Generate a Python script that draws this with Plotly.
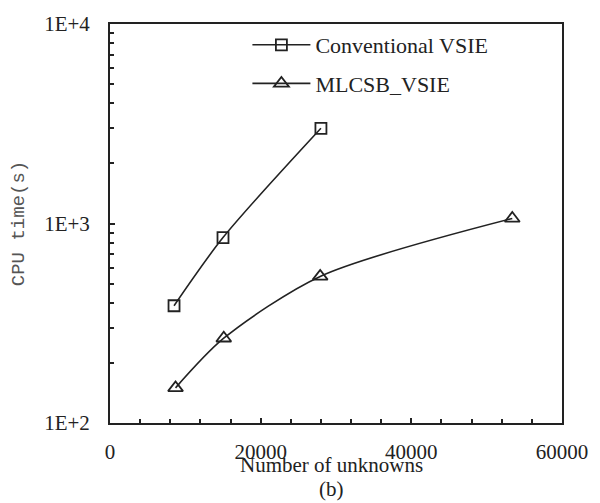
import plotly.graph_objects as go

# Data
conv_x = [8500, 15000, 28000]
conv_y = [387, 850, 3000]
ml_x = [8700, 15100, 27900, 53400]
ml_y = [150, 266, 543, 1060]

series_names = ["Conventional VSIE", "MLCSB_VSIE"]
y_tickvals = [100, 1000, 10000]
y_ticktext = ["1E+2", "1E+3", "1E+4"]
x_tickvals = [0, 20000, 40000, 60000]
x_ticktext = ["0", "20000", "40000", "60000"]

serif = "Liberation Serif"
ink = "#222222"

fig = go.Figure()
fig.add_trace(go.Scatter(
    x=conv_x, y=conv_y, name=series_names[0], legendgroup="a",
    mode="lines+markers",
    line=dict(color=ink, width=1.6, shape="spline", smoothing=0.8),
    marker=dict(symbol="square-open", size=11, color=ink, line=dict(width=1.8)),
))
fig.add_trace(go.Scatter(
    x=ml_x, y=ml_y, name=series_names[1], legendgroup="b",
    mode="lines+markers",
    line=dict(color=ink, width=1.6, shape="spline", smoothing=0.8),
    marker=dict(symbol="triangle-up-open", size=13, color=ink, line=dict(width=1.8)),
))

axis_common = dict(
    showline=True, linecolor=ink, linewidth=2, mirror=True,
    showgrid=False, zeroline=False, ticks="inside",
    tickcolor=ink, tickfont=dict(family=serif, size=21, color=ink),
)

fig.update_xaxes(
    range=[0, 60000], tickvals=x_tickvals, ticktext=x_ticktext,
    ticklen=5, tickwidth=1.5, ticklabelstandoff=9,
    minor=dict(ticks="inside", dtick=4000, tick0=0, ticklen=4, tickwidth=1.5, tickcolor=ink),
    **axis_common,
)
fig.update_yaxes(
    type="log", range=[2, 4], tickvals=y_tickvals, ticktext=y_ticktext,
    ticklen=5, tickwidth=1.5, ticklabelstandoff=14,
    minor=dict(ticks="inside", tickvals=[m * d for d in (100, 1000) for m in range(2, 10)],
               ticklen=4, tickwidth=1.5, tickcolor=ink),
    title=dict(text="CPU time(s)", font=dict(family="Liberation Mono", size=19, color="#555555"), standoff=14),
    **axis_common,
)

fig.update_layout(
    width=600, height=503,
    margin=dict(l=110, r=30, t=15, b=80),
    paper_bgcolor="white", plot_bgcolor="white",
    showlegend=True,
    legend=dict(
        x=0.304, y=1.0, xanchor="left", yanchor="top",
        bgcolor="rgba(0,0,0,0)", borderwidth=0,
        font=dict(family=serif, size=22, color=ink),
        itemwidth=58, tracegroupgap=7,
    ),
    annotations=[
        dict(text="Number of unknowns", x=0.49, y=0, xref="paper", yref="paper",
             xanchor="center", yanchor="middle", yshift=-42, showarrow=False,
             font=dict(family=serif, size=21, color=ink)),
        dict(text="(b)", x=0.49, y=0, xref="paper", yref="paper",
             xanchor="center", yanchor="middle", yshift=-66, showarrow=False,
             font=dict(family=serif, size=21, color=ink)),
    ],
)

fig.write_html("out.html")
